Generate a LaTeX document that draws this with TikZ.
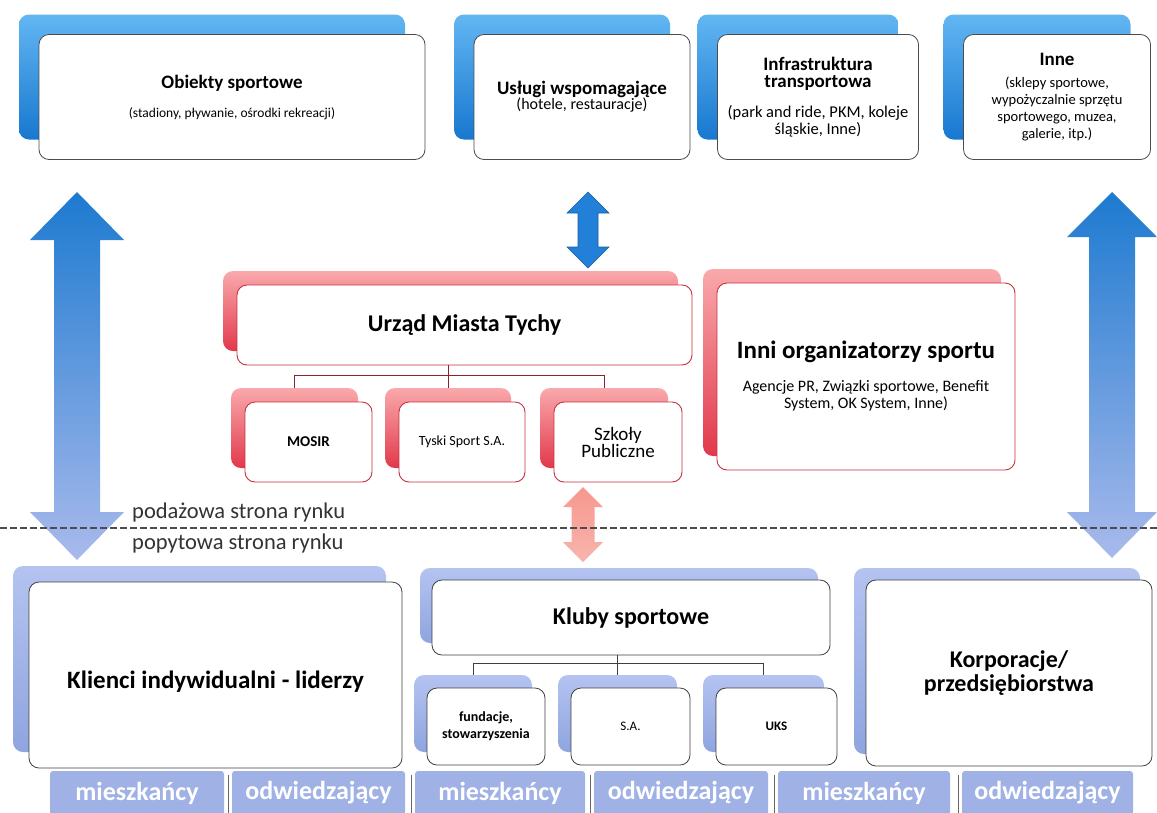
\documentclass[tikz,border=0pt]{standalone}
\usepackage{fontspec}
\setmainfont{Carlito}
\definecolor{tbla}{HTML}{62B6F2}
\definecolor{tblb}{HTML}{1878D0}
\definecolor{rda}{HTML}{F9A9AC}
\definecolor{rdb}{HTML}{E2384B}
\definecolor{rdline}{HTML}{C8323F}
\definecolor{bba}{HTML}{B4C3F0}
\definecolor{bbb}{HTML}{8FA5E0}
\definecolor{stripc}{HTML}{A0B1E6}
\definecolor{arrA}{HTML}{1D7AD0}
\definecolor{arrB}{HTML}{6EA0E0}
\definecolor{arrC}{HTML}{A9BAEC}
\definecolor{midbl}{HTML}{2280D8}
\definecolor{pinkar}{HTML}{F6A89E}
\newcommand\myT{\fontsize{19}{21}\selectfont\bfseries}
\newcommand\myS{\fontsize{14.5}{17}\selectfont}
\newcommand\myB{\fontsize{24}{26}\selectfont\bfseries}
\newcommand\mystk[9]{%
  \node[#7, minimum width=#4pt, minimum height=#5pt] (#1b) at ({#2-#6},{#3-#6}) {};
  \node[#8, minimum width=#4pt, minimum height=#5pt] (#1) at (#2,#3) {#9};
}
\newcommand\mydbl[7]{% cx, ytop, hb1, hb2, ybot, head hw, shaft hw
  ({#1},{#2}) -- ({#1+#6},{#3}) -- ({#1+#7},{#3}) -- ({#1+#7},{#4}) -- ({#1+#6},{#4})
  -- ({#1},{#5}) -- ({#1-#6},{#4}) -- ({#1-#7},{#4}) -- ({#1-#7},{#3}) -- ({#1-#6},{#3}) -- cycle}
\begin{document}
\begin{tikzpicture}[x=1pt,y=-1pt,
  topback/.style={rounded corners=10pt, top color=tbla, bottom color=tblb, inner sep=0pt},
  topfront/.style={draw=black!70, fill=white, rounded corners=10pt, line width=0.8pt, align=center, inner sep=0pt, font=\myS},
  redback/.style={rounded corners=10pt, top color=rda, bottom color=rdb, inner sep=0pt},
  redfront/.style={draw=rdline, fill=white, rounded corners=10pt, line width=0.9pt, align=center, inner sep=0pt, font=\myS},
  botback/.style={rounded corners=10pt, top color=bba, bottom color=bbb, inner sep=0pt},
  botfront/.style={draw=black!75, fill=white, rounded corners=10pt, line width=0.8pt, align=center, inner sep=0pt, font=\myS},
  stripbox/.style={fill=stripc, rounded corners=3pt, minimum height=44pt, text=white, font=\fontsize{26}{28}\selectfont\bfseries, inner sep=0pt},
  treeline/.style={draw=#1, line width=0.9pt},
  sidetext/.style={anchor=west, inner sep=0pt, text=black!80, font=\fontsize{22.5}{25}\selectfont},
]
\useasboundingbox (0,0) rectangle (1157,812);
\clip (0,0) rectangle (1157,812);
\fill[white] (0,0) rectangle (1157,812);

% top row
\mystk{obj}{232}{97}{386}{125}{20}{topback}{topfront}{{\myT Obiekty sportowe}\\[12pt]{\fontsize{13.5}{17}\selectfont (stadiony, pływanie, ośrodki rekreacji)}}
\mystk{usl}{582}{97}{216}{125}{20}{topback}{topfront}{{\myT Usługi wspomagające}\\[-2pt]{\fontsize{16}{17}\selectfont (hotele, restauracje)}}
\mystk{inf}{818}{97}{201}{125}{20}{topback}{topfront}{{\myT Infrastruktura}\\{\myT transportowa}\\[13pt]{\fontsize{16.5}{17}\selectfont (park and ride, PKM, koleje}\\{\fontsize{16.5}{17}\selectfont śląskie, Inne)}}
\mystk{inn}{1057}{97}{187}{125}{20}{topback}{topfront}{{\myT Inne}\\[5pt](sklepy sportowe,\\wypożyczalnie sprzętu\\sportowego, muzea,\\galerie, itp.)}

% big arrows
\shade[top color=arrA, middle color=arrB, bottom color=arrC] \mydbl{77}{192}{240}{512}{560}{47}{23};
\shade[top color=arrA, middle color=arrB, bottom color=arrC] \mydbl{1112}{192}{237}{512}{558}{45}{23};
\filldraw[fill=midbl, draw=midbl!75!black, line width=0.6pt] \mydbl{588}{192}{213}{247}{268}{21}{10};
\shade[top color=pinkar!90!red, bottom color=pinkar!85!white] \mydbl{583}{487}{507}{542}{562}{20}{11.5};

% middle red section
\mystk{urz}{464.5}{325}{455}{80}{14}{redback}{redfront}{{\myB Urząd Miasta Tychy}}
\mystk{mos}{308.5}{442}{127}{80}{14}{redback}{redfront}{{\fontsize{15}{17}\selectfont\bfseries MOSIR}}
\mystk{tys}{462}{442}{126}{80}{14}{redback}{redfront}{{\fontsize{14}{17}\selectfont Tyski Sport S.A.}}
\mystk{szk}{618}{442}{128}{80}{14}{redback}{redfront}{{\fontsize{19}{20}\selectfont Szkoły}\\{\fontsize{19}{20}\selectfont Publiczne}}
\mystk{ino}{866}{376.5}{298}{187}{14}{redback}{redfront}{{\fontsize{25}{27}\selectfont\bfseries Inni organizatorzy sportu}\\[16pt]{\fontsize{16}{17}\selectfont Agencje PR, Związki sportowe, Benefit}\\{\fontsize{16}{17}\selectfont System, OK System, Inne)}}

\draw[treeline=rdline!70!black] (mosb.north) -- ++(0,-12) -| (szkb.north);
\draw[treeline=rdline!70!black] (tysb.north) -- (tysb.north |- urz.south);

% dashed divider
\draw[black!70, line width=1.3pt, dash pattern=on 7pt off 3pt] (0,528) coordinate (dl) -- (1157,528) coordinate (dr);
\node[sidetext] (poda) at (132,512) {podażowa strona rynku};
\node[sidetext] (popy) at (132,543) {popytowa strona rynku};

% bottom section
\mystk{kli}{215.5}{675}{373}{186}{16}{botback}{botfront}{{\fontsize{25}{28}\selectfont\bfseries\rule{0pt}{30pt}Klienci indywidualni - liderzy}}
\mystk{klu}{631}{617.5}{398}{75}{12}{botback}{botfront}{{\fontsize{24}{27}\selectfont\bfseries Kluby sportowe}}
\mystk{fun}{486}{726.5}{118}{77}{13}{botback}{botfront}{{\fontsize{14}{17}\selectfont\bfseries fundacje,}\\{\fontsize{14}{17}\selectfont\bfseries stowarzyszenia}}
\mystk{sa}{630.5}{726.5}{119}{77}{13}{botback}{botfront}{{\fontsize{13}{15}\selectfont S.A.}}
\mystk{uks}{776.5}{726.5}{121}{77}{13}{botback}{botfront}{{\fontsize{13}{15}\selectfont\bfseries UKS}}
\mystk{kor}{1009}{673}{286}{186}{12}{botback}{botfront}{{\fontsize{24}{28}\selectfont\bfseries Korporacje/}\\[2pt]{\fontsize{24}{28}\selectfont\bfseries przedsiębiorstwa}}

\draw[treeline=black!75] (funb.north) -- ++(0,-11) -| (uksb.north);
\draw[treeline=black!75] (sab.north) -- (sab.north |- klu.south);

% bottom strip
\node[stripbox, minimum width=174pt] (s1) at (137,793) {mieszkańcy};
\node[stripbox, minimum width=173pt] (s2) at (318.5,793) {odwiedzający};
\node[stripbox, minimum width=170pt] (s3) at (500,793) {mieszkańcy};
\node[stripbox, minimum width=174pt] (s4) at (681,793) {odwiedzający};
\node[stripbox, minimum width=172pt] (s5) at (864,793) {mieszkańcy};
\node[stripbox, minimum width=171pt] (s6) at (1047.5,793) {odwiedzający};
\foreach \s in {s2,s3,s4,s5,s6}{\draw[black!60, line width=0.8pt] ([xshift=-3pt,yshift=-4pt]\s.north west) -- ([xshift=-3pt]\s.south west);}
\end{tikzpicture}
\end{document}
